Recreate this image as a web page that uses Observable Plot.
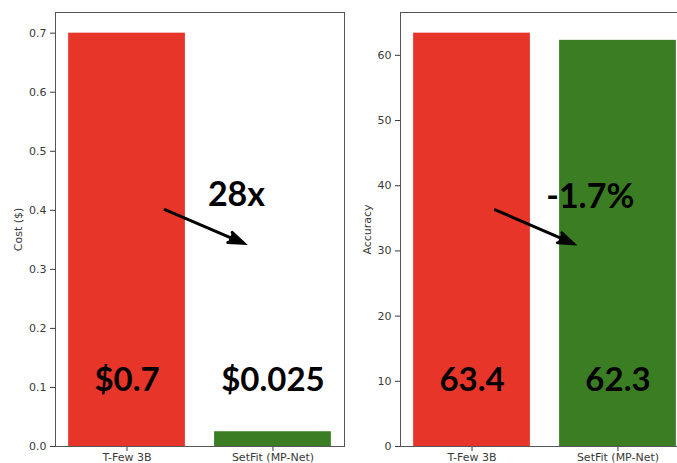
<!DOCTYPE html>
<html>
<head>
<meta charset="utf-8">
<script src="https://cdn.jsdelivr.net/npm/d3@7"></script>
<script src="https://cdn.jsdelivr.net/npm/@observablehq/plot@0.6"></script>
<style>
  html, body { margin: 0; padding: 0; background: #fff; }
  body { position: relative; width: 677px; height: 463px; overflow: hidden; }
  .panel { position: absolute; top: 0; width: 360px; height: 463px; }
  .panel svg { max-width: none !important; }
  #cost { left: 0; }
  #accuracy { left: 340px; }
</style>
</head>
<body>
<div id="cost" class="panel"></div>
<div id="accuracy" class="panel"></div>
<script>
// Models compared in both panels
const models = ["T-Few 3B", "SetFit (MP-Net)"];
const barColors = ["#e8352a", "#3a7d23"];

// Left panel: training cost
const costs = [0.7, 0.025];
const costLabels = ["$0.7", "$0.025"];
const costTicks = [0, 0.1, 0.2, 0.3, 0.4, 0.5, 0.6, 0.7];
const costNote = "28x";

// Right panel: accuracy
const accuracies = [63.4, 62.3];
const accuracyLabels = ["63.4", "62.3"];
const accuracyTicks = [0, 10, 20, 30, 40, 50, 60];
const accuracyNote = "-1.7%";

function panel({values, labels, ticks, tickFormat, yLabel, note, notePos, arrowFrom, arrowTo, marginLeft, labelOffset}) {
  const rows = models.map((model, i) => ({i, model, value: values[i], label: labels[i], color: barColors[i]}));
  const yMax = d3.max(values) * 1.05;
  const width = 360;
  const frameWidth = 289;
  return Plot.plot({
    width,
    height: 463,
    marginLeft,
    marginRight: width - marginLeft - frameWidth,
    marginTop: 12,
    marginBottom: 17,
    style: {fontFamily: "DejaVu Sans", fontSize: "11px", color: "#3a3a3a", background: "transparent", overflow: "visible"},
    x: {domain: [-0.49, 1.49], ticks: [0, 1], tickFormat: (i) => models[i], tickSize: 5, tickPadding: 2, label: null},
    y: {domain: [0, yMax], ticks, tickFormat, tickSize: 5, tickPadding: 4, label: yLabel, labelAnchor: "center", labelOffset, labelArrow: "none"},
    marks: [
      Plot.rectY(rows, {x1: (d) => d.i - 0.4, x2: (d) => d.i + 0.4, y: "value", fill: "color"}),
      Plot.frame({stroke: "#555", strokeWidth: 1}),
      Plot.text(rows, {x: "i", text: "label", frameAnchor: "bottom", dy: -66, lineAnchor: "middle",
        fontFamily: "Lato", fontWeight: "bold", fontSize: 33, fill: "#000"}),
      Plot.text([note], {x: () => notePos[0], y: () => notePos[1], text: (d) => d, lineAnchor: "middle",
        fontFamily: "Lato", fontWeight: "bold", fontSize: 34, fill: "#000"}),
      Plot.arrow([0], {x1: () => arrowFrom[0], y1: () => arrowFrom[1], x2: () => arrowTo[0], y2: () => arrowTo[1],
        stroke: "#000", fill: "#000", strokeWidth: 3, headAngle: 40, headLength: 8, strokeLinejoin: "miter", strokeMiterlimit: 4})
    ]
  });
}

document.getElementById("cost").append(panel({
  values: costs, labels: costLabels, ticks: costTicks, tickFormat: d3.format(".1f"), yLabel: "Cost ($)",
  note: costNote, notePos: [0.75, 0.425], arrowFrom: [0.26, 0.401], arrowTo: [0.80, 0.344],
  marginLeft: 55, labelOffset: 41
}));

document.getElementById("accuracy").append(panel({
  values: accuracies, labels: accuracyLabels, ticks: accuracyTicks, tickFormat: d3.format("d"), yLabel: "Accuracy",
  note: accuracyNote, notePos: [0.81, 38.3], arrowFrom: [0.16, 36.3], arrowTo: [0.695, 31.1],
  marginLeft: 60, labelOffset: 37
}));
</script>
</body>
</html>
